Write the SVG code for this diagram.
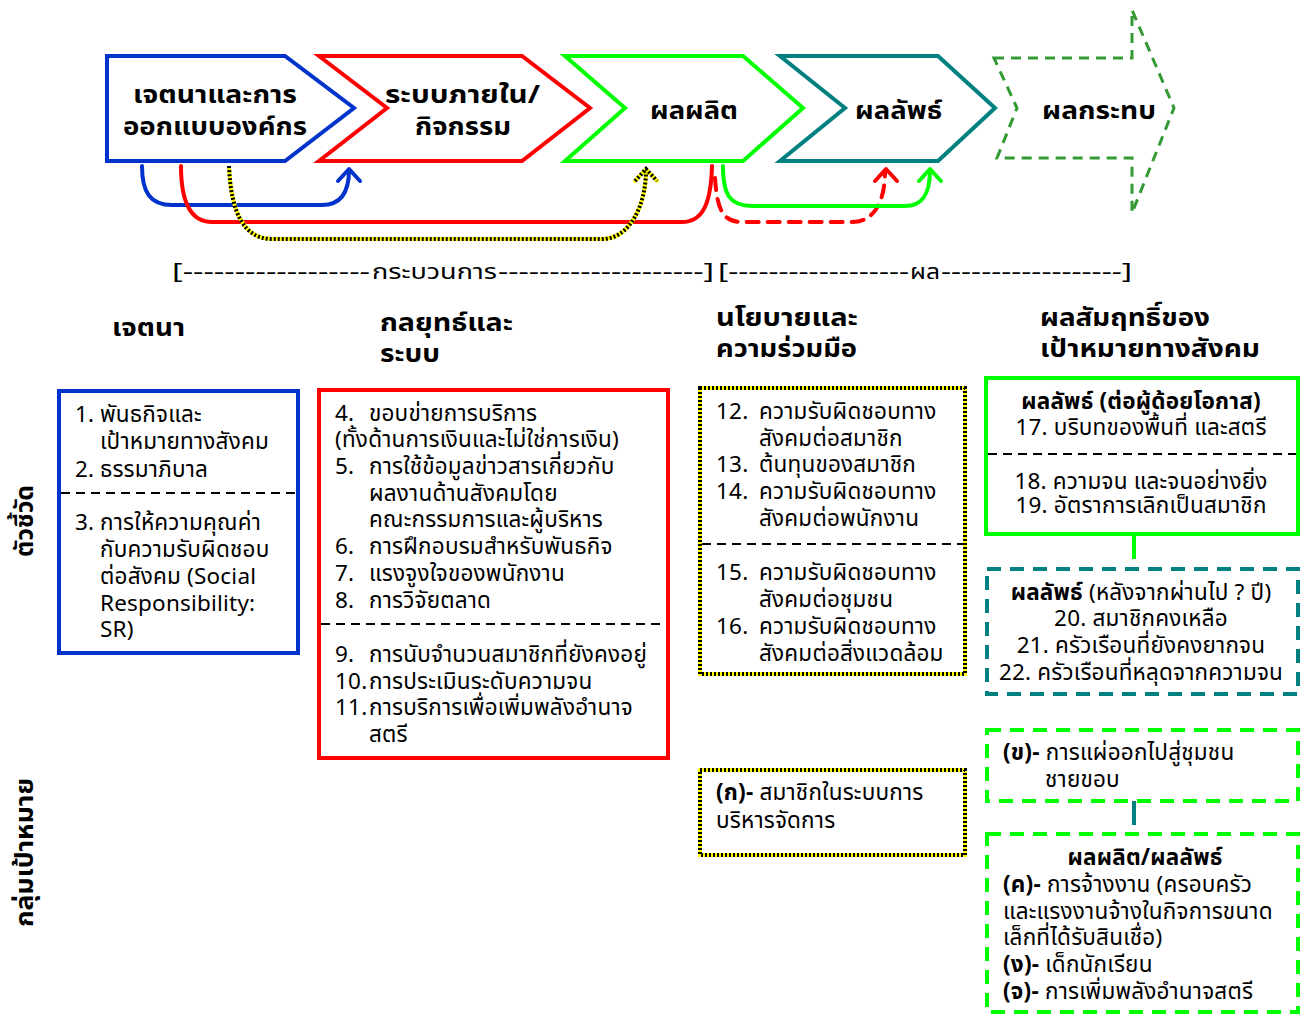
<svg xmlns="http://www.w3.org/2000/svg" width="1309" height="1014" viewBox="0 0 1309 1014">
  <style>
    text { font-family: Tahoma, "Noto Sans Thai", "Noto Sans Thai Looped", Loma, Garuda, "Liberation Sans", sans-serif; fill: #000; }
    .t { font-size: 22.5px; letter-spacing: 0.2px; }
    .b { font-weight: bold; }
    .ttl { font-size: 25px; font-weight: bold; }
    .hdr { font-size: 25px; font-weight: bold; }
    .brk { font-size: 21px; }
    .mid { text-anchor: middle; }
    .div { stroke: #000; stroke-width: 2; stroke-dasharray: 9 6; fill: none; }
    .chk-y { fill: none; stroke: #FFFF00; stroke-width: 4; }
    .chk-k { fill: none; stroke: #000; stroke-width: 4; stroke-dasharray: 2 2; }
    .flow { fill: none; stroke-width: 4; stroke-linecap: round; stroke-linejoin: round; }
  </style>

  <rect width="1309" height="1014" fill="#fff"/>

  <!-- process chain -->
  <g id="stage-intent">
    <path d="M107,56 L285,56 L354,108 L285,161 L107,161 Z" fill="#fff" stroke="#0033CC" stroke-width="4"/>
    <text class="ttl" x="133" y="103" textLength="164" lengthAdjust="spacingAndGlyphs">เจตนาและการ</text>
    <text class="ttl" x="123" y="135" textLength="184" lengthAdjust="spacingAndGlyphs">ออกแบบองค์กร</text>
  </g>
  <g id="stage-system">
    <path d="M319,56 L522,56 L590,108 L522,161 L319,161 L387,108 Z" fill="#fff" stroke="#FF0000" stroke-width="4"/>
    <text class="ttl" x="385" y="103" textLength="155" lengthAdjust="spacingAndGlyphs">ระบบภายใน/</text>
    <text class="ttl" x="415" y="135" textLength="96" lengthAdjust="spacingAndGlyphs">กิจกรรม</text>
  </g>
  <g id="stage-output">
    <path d="M565,56 L743,56 L803,108 L743,161 L565,161 L625,108 Z" fill="#fff" stroke="#00FF00" stroke-width="4"/>
    <text class="ttl" x="650" y="119" textLength="88" lengthAdjust="spacingAndGlyphs">ผลผลิต</text>
  </g>
  <g id="stage-outcome">
    <path d="M780,56 L938,56 L995,108 L938,161 L780,161 L845,108 Z" fill="#fff" stroke="#008080" stroke-width="4"/>
    <text class="ttl" x="855" y="119" textLength="87" lengthAdjust="spacingAndGlyphs">ผลลัพธ์</text>
  </g>
  <g id="stage-impact">
    <path d="M994,58 L1132,58 L1132,10 L1174,108 L1132,213 L1132,158 L997,158 L1017,108 Z" fill="none" stroke="#339933" stroke-width="3" stroke-dasharray="10 7"/>
    <text class="ttl" x="1042" y="119" textLength="114" lengthAdjust="spacingAndGlyphs">ผลกระทบ</text>
  </g>

  <!-- links between stages -->
  <g id="connectors">
    <path class="flow" stroke="#0033CC" d="M142,166 C142,192 150,205 172,205 L322,205 C342,205 349,190 349,170"/>
    <path class="flow" stroke="#0033CC" d="M338,181 L349,169 L360,181"/>
    <path class="flow" stroke="#FF0000" d="M181,166 C181,205 192,222 212,222 L682,222 C702,222 711,205 712,166"/>
    <path class="chk-y" d="M229,166 C231,215 245,239 272,239 L602,239 C630,239 646,205 646,170"/>
    <path class="chk-k" d="M229,166 C231,215 245,239 272,239 L602,239 C630,239 646,205 646,170"/>
    <path class="chk-y" stroke-linecap="round" stroke-linejoin="round" d="M635,181 L646,169 L657,181"/>
    <path class="chk-k" d="M635,181 L646,169 L657,181"/>
    <path class="flow" stroke="#FF0000" stroke-linecap="butt" stroke-dasharray="12 9" d="M715,178 C717,208 722,222 742,222 L852,222 C875,222 885,200 885,172"/>
    <path class="flow" stroke="#FF0000" d="M875,181 L886,169 L897,181"/>
    <path class="flow" stroke="#00FF00" d="M723,166 C723,195 730,206 752,206 L905,206 C922,206 930,195 930,170"/>
    <path class="flow" stroke="#00FF00" d="M919,181 L930,169 L941,181"/>
    <line x1="1134" y1="534" x2="1134" y2="559" stroke="#00FF00" stroke-width="4"/>
    <line x1="1134" y1="801" x2="1134" y2="825" stroke="#008080" stroke-width="4"/>
  </g>

  <!-- column headings -->
  <g id="headings">
    <text class="brk" x="172" y="279" textLength="198" lengthAdjust="spacingAndGlyphs">[------------------</text>
    <text class="brk" x="372" y="279" textLength="125" lengthAdjust="spacingAndGlyphs">กระบวนการ</text>
    <text class="brk" x="498" y="279" textLength="216" lengthAdjust="spacingAndGlyphs">--------------------]</text>
    <text class="brk" x="718" y="279" textLength="191" lengthAdjust="spacingAndGlyphs">[------------------</text>
    <text class="brk" x="910" y="279" textLength="30" lengthAdjust="spacingAndGlyphs">ผล</text>
    <text class="brk" x="941" y="279" textLength="191" lengthAdjust="spacingAndGlyphs">------------------]</text>
    <text class="hdr" x="112" y="336" textLength="73" lengthAdjust="spacingAndGlyphs">เจตนา</text>
    <text class="hdr" x="380" y="331" textLength="133" lengthAdjust="spacingAndGlyphs">กลยุทธ์และ</text>
    <text class="hdr" x="380" y="362" textLength="60" lengthAdjust="spacingAndGlyphs">ระบบ</text>
    <text class="hdr" x="716" y="326" textLength="142" lengthAdjust="spacingAndGlyphs">นโยบายและ</text>
    <text class="hdr" x="716" y="357" textLength="141" lengthAdjust="spacingAndGlyphs">ความร่วมมือ</text>
    <text class="hdr" x="1040" y="326" textLength="170" lengthAdjust="spacingAndGlyphs">ผลสัมฤทธิ์ของ</text>
    <text class="hdr" x="1040" y="357" textLength="220" lengthAdjust="spacingAndGlyphs">เป้าหมายทางสังคม</text>
  </g>

  <!-- row labels -->
  <g id="row-labels">
    <text class="hdr" transform="translate(33,557) rotate(-90)" textLength="72" lengthAdjust="spacingAndGlyphs">ตัวชี้วัด</text>
    <text class="hdr" transform="translate(33,927) rotate(-90)" textLength="149" lengthAdjust="spacingAndGlyphs">กลุ่มเป้าหมาย</text>
  </g>

  <!-- indicator boxes -->
  <g id="box-intent">
    <rect x="59" y="391" width="239" height="262" fill="#fff" stroke="#0033CC" stroke-width="4"/>
    <line class="div" x1="61" y1="493" x2="296" y2="493"/>
    <text class="t" x="75" y="422">1.</text><text class="t" x="100" y="422">พันธกิจและ</text>
    <text class="t" x="100" y="449">เป้าหมายทางสังคม</text>
    <text class="t" x="75" y="477">2.</text><text class="t" x="100" y="477">ธรรมาภิบาล</text>
    <text class="t" x="75" y="530">3.</text><text class="t" x="100" y="530">การให้ความคุณค่า</text>
    <text class="t" x="100" y="557">กับความรับผิดชอบ</text>
    <text class="t" x="100" y="584">ต่อสังคม (Social</text>
    <text class="t" x="100" y="611">Responsibility:</text>
    <text class="t" x="100" y="637">SR)</text>
  </g>

  <g id="box-strategy">
    <rect x="319" y="390" width="349" height="368" fill="#fff" stroke="#FF0000" stroke-width="4"/>
    <line class="div" x1="321" y1="624" x2="666" y2="624"/>
    <text class="t" x="335" y="421">4.</text><text class="t" x="369" y="421">ขอบข่ายการบริการ</text>
    <text class="t" x="335" y="447">(ทั้งด้านการเงินและไม่ใช่การเงิน)</text>
    <text class="t" x="335" y="474">5.</text><text class="t" x="369" y="474">การใช้ข้อมูลข่าวสารเกี่ยวกับ</text>
    <text class="t" x="369" y="501">ผลงานด้านสังคมโดย</text>
    <text class="t" x="369" y="527">คณะกรรมการและผู้บริหาร</text>
    <text class="t" x="335" y="554">6.</text><text class="t" x="369" y="554">การฝึกอบรมสำหรับพันธกิจ</text>
    <text class="t" x="335" y="581">7.</text><text class="t" x="369" y="581">แรงจูงใจของพนักงาน</text>
    <text class="t" x="335" y="608">8.</text><text class="t" x="369" y="608">การวิจัยตลาด</text>
    <text class="t" x="335" y="662">9.</text><text class="t" x="369" y="662">การนับจำนวนสมาชิกที่ยังคงอยู่</text>
    <text class="t" x="335" y="689">10.</text><text class="t" x="369" y="689">การประเมินระดับความจน</text>
    <text class="t" x="335" y="715">11.</text><text class="t" x="369" y="715">การบริการเพื่อเพิ่มพลังอำนาจ</text>
    <text class="t" x="369" y="742">สตรี</text>
  </g>

  <g id="box-policy">
    <rect x="700" y="388" width="265" height="286" fill="#fff" class="chk-y"/>
    <rect x="700" y="388" width="265" height="286" class="chk-k"/>
    <line class="div" x1="702" y1="544" x2="963" y2="544"/>
    <text class="t" x="716" y="419">12.</text><text class="t" x="759" y="419">ความรับผิดชอบทาง</text>
    <text class="t" x="759" y="446">สังคมต่อสมาชิก</text>
    <text class="t" x="716" y="472">13.</text><text class="t" x="759" y="472">ต้นทุนของสมาชิก</text>
    <text class="t" x="716" y="499">14.</text><text class="t" x="759" y="499">ความรับผิดชอบทาง</text>
    <text class="t" x="759" y="526">สังคมต่อพนักงาน</text>
    <text class="t" x="716" y="580">15.</text><text class="t" x="759" y="580">ความรับผิดชอบทาง</text>
    <text class="t" x="759" y="607">สังคมต่อชุมชน</text>
    <text class="t" x="716" y="634">16.</text><text class="t" x="759" y="634">ความรับผิดชอบทาง</text>
    <text class="t" x="759" y="661">สังคมต่อสิ่งแวดล้อม</text>
  </g>

  <g id="box-outcome-poor">
    <rect x="986" y="378" width="312" height="156" fill="#fff" stroke="#00FF00" stroke-width="4"/>
    <line class="div" x1="988" y1="454" x2="1296" y2="454"/>
    <text class="t b mid" x="1141" y="409">ผลลัพธ์ (ต่อผู้ด้อยโอกาส)</text>
    <text class="t mid" x="1141" y="435">17. บริบทของพื้นที่ และสตรี</text>
    <text class="t mid" x="1141" y="489">18. ความจน และจนอย่างยิ่ง</text>
    <text class="t mid" x="1141" y="513">19. อัตราการเลิกเป็นสมาชิก</text>
  </g>

  <g id="box-outcome-later">
    <rect x="987" y="569" width="311" height="125" fill="#fff" stroke="#008080" stroke-width="4" stroke-dasharray="14 9"/>
    <text class="t mid" x="1141" y="600"><tspan class="b">ผลลัพธ์</tspan> (หลังจากผ่านไป ? ปี)</text>
    <text class="t mid" x="1141" y="626">20. สมาชิกคงเหลือ</text>
    <text class="t mid" x="1141" y="653">21. ครัวเรือนที่ยังคงยากจน</text>
    <text class="t mid" x="1141" y="680">22. ครัวเรือนที่หลุดจากความจน</text>
  </g>

  <g id="box-target-members">
    <rect x="700" y="770" width="265" height="85" fill="#fff" class="chk-y"/>
    <rect x="700" y="770" width="265" height="85" class="chk-k"/>
    <text class="t" x="716" y="800"><tspan class="b">(ก)-</tspan> สมาชิกในระบบการ</text>
    <text class="t" x="716" y="828">บริหารจัดการ</text>
  </g>

  <g id="box-target-fringe">
    <rect x="987" y="730" width="311" height="71" fill="#fff" stroke="#00FF00" stroke-width="4" stroke-dasharray="14 9"/>
    <text class="t" x="1003" y="760"><tspan class="b">(ข)-</tspan> การแผ่ออกไปสู่ชุมชน</text>
    <text class="t" x="1045" y="787">ชายขอบ</text>
  </g>

  <g id="box-target-results">
    <rect x="987" y="834" width="311" height="178" fill="#fff" stroke="#00FF00" stroke-width="4" stroke-dasharray="14 9"/>
    <text class="t b mid" x="1145" y="865">ผลผลิต/ผลลัพธ์</text>
    <text class="t" x="1003" y="892"><tspan class="b">(ค)-</tspan> การจ้างงาน (ครอบครัว</text>
    <text class="t" x="1003" y="919">และแรงงานจ้างในกิจการขนาด</text>
    <text class="t" x="1003" y="945">เล็กที่ได้รับสินเชื่อ)</text>
    <text class="t" x="1003" y="972"><tspan class="b">(ง)-</tspan> เด็กนักเรียน</text>
    <text class="t" x="1003" y="999"><tspan class="b">(จ)-</tspan> การเพิ่มพลังอำนาจสตรี</text>
  </g>
</svg>
